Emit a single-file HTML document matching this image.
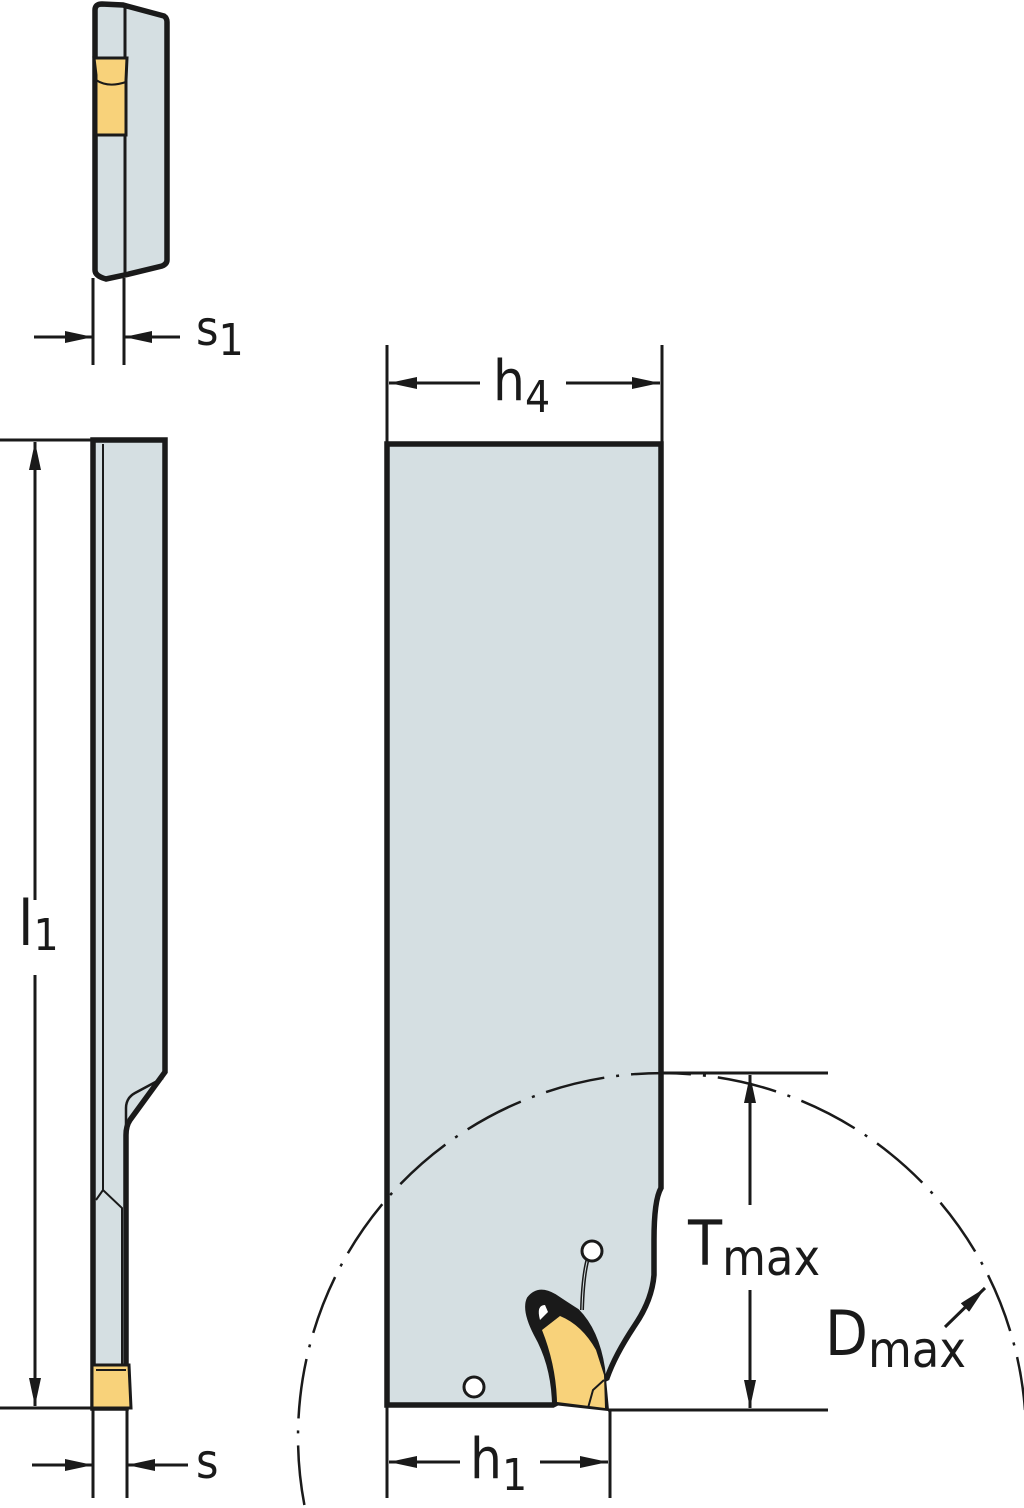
<!DOCTYPE html>
<html><head><style>html,body{margin:0;padding:0;background:#fff;width:1024px;height:1508px;overflow:hidden}svg{display:block;overflow:hidden}</style></head>
<body>
<svg width="1024" height="1508" viewBox="0 0 1024 1508" xmlns="http://www.w3.org/2000/svg">
<defs>
<marker id="a" viewBox="0 0 28 12" refX="28" refY="6" markerWidth="28" markerHeight="12" markerUnits="userSpaceOnUse" orient="auto"><path d="M0,0 L28,6 L0,12 Z" fill="#1a1a1a"/></marker>
</defs>
<g stroke="#1a1a1a" fill="none" stroke-width="3">
<path d="M95,10 Q95,4 102,4 L123,5 L164,16 Q167,18 167,22 L167,260 Q167,264 162,266 L125,275 L106,279 Q95,276 95,270 Z" fill="#d5dfe2" stroke-width="5.5"/>
<line x1="125" y1="6" x2="125" y2="274" stroke-width="3"/>
<path d="M94,58 L127,58 L126,80 L126,135 L96,135 L96,75 Z" fill="#f8d27a" stroke-width="3"/>
<path d="M96,80 Q108,88 126,82" stroke-width="2"/>
<line x1="93" y1="278" x2="93" y2="365"/><line x1="124" y1="278" x2="124" y2="365"/>
<line x1="34" y1="337" x2="93" y2="337" marker-end="url(#a)"/>
<line x1="180" y1="337" x2="124" y2="337" marker-end="url(#a)"/>
<path d="M93,440 L165,440 L165,1072 L130,1120 Q126,1126 126,1135 L126,1408 L93,1408 Z" fill="#d5dfe2" stroke-width="5.5"/>
<line x1="103" y1="444" x2="103" y2="1190" stroke-width="2"/>
<path d="M96,1200 L103,1190 L122,1208 L122,1365" stroke-width="2"/>
<path d="M163,1078 L135,1093 Q126,1098 126,1108 L126,1130" stroke-width="2.5"/>
<path d="M92,1365 L129,1365 L131,1408 L92,1408 Z" fill="#f8d27a" stroke-width="3"/>
<line x1="96" y1="1370" x2="126" y2="1370" stroke-width="2"/>
<line x1="0" y1="440" x2="93" y2="440"/><line x1="0" y1="1408" x2="93" y2="1408"/>
<line x1="35" y1="900" x2="35" y2="442" marker-end="url(#a)"/>
<line x1="35" y1="975" x2="35" y2="1406" marker-end="url(#a)"/>
<line x1="93" y1="1408" x2="93" y2="1498"/><line x1="127" y1="1408" x2="127" y2="1498"/>
<line x1="32" y1="1465" x2="93" y2="1465" marker-end="url(#a)"/>
<line x1="188" y1="1465" x2="127" y2="1465" marker-end="url(#a)"/>
<path d="M387,444 L661,444 L661,1188 Q654,1200 654,1240 L654,1275 Q652,1300 635,1325 Q615,1355 607,1378 L553,1405 L387,1405 Z" fill="#d5dfe2" stroke-width="5.5"/>
<path d="M553,1404 Q552,1365 535,1335 Q522,1310 528,1298 Q538,1285 555,1295 Q570,1305 578,1310 Q598,1330 604,1368 L608,1410 Z" fill="#1a1a1a" stroke-width="2"/>
<path d="M557,1402 Q556,1365 542,1330 L560,1316 Q582,1325 596,1350 L604,1375 L605,1408 Z" fill="#f8d27a" stroke="none"/>
<path d="M540,1320 Q536,1305 545,1305 L548,1312 Z" fill="#fff" stroke="none"/>
<path d="M588,1258 Q583,1275 582,1310" stroke-width="4"/>
<path d="M588,1258 Q583,1275 582,1310" stroke="#d5dfe2" stroke-width="1"/>
<circle cx="592" cy="1251" r="10" fill="#fff" stroke-width="3"/>
<circle cx="474" cy="1387" r="10" fill="#fff" stroke-width="3"/>
<path d="M588,1408 L593,1390 L604,1380" stroke-width="2"/>
<path d="M304.4,1505 A364,364 0 1 1 1025,1410" stroke-width="2.5" stroke-dasharray="60,12,3,12"/>
<line x1="387" y1="345" x2="387" y2="444"/><line x1="662" y1="345" x2="662" y2="444"/>
<line x1="480" y1="383" x2="389" y2="383" marker-end="url(#a)"/>
<line x1="566" y1="383" x2="660" y2="383" marker-end="url(#a)"/>
<line x1="662" y1="1073" x2="828" y2="1073"/><line x1="608" y1="1410" x2="828" y2="1410"/>
<line x1="750" y1="1205" x2="750" y2="1075" marker-end="url(#a)"/>
<line x1="750" y1="1290" x2="750" y2="1408" marker-end="url(#a)"/>
<line x1="387" y1="1405" x2="387" y2="1498"/><line x1="610" y1="1410" x2="610" y2="1498"/>
<line x1="460" y1="1462" x2="389" y2="1462" marker-end="url(#a)"/>
<line x1="540" y1="1462" x2="608" y2="1462" marker-end="url(#a)"/>
<line x1="945" y1="1327" x2="985" y2="1288" marker-end="url(#a)"/>
</g>
<g font-family="'DejaVu Sans Condensed','Liberation Sans',sans-serif" fill="#1a1a1a">
<text x="196" y="345" font-size="48">s<tspan font-size="44" dy="10">1</tspan></text>
<text x="18" y="945" font-size="62">l<tspan font-size="44" dy="5">1</tspan></text>
<text x="196" y="1478" font-size="48">s</text>
<text x="493" y="400" font-size="56">h<tspan font-size="44" dy="12">4</tspan></text>
<text x="470" y="1478" font-size="56">h<tspan font-size="44" dy="12">1</tspan></text>
<text x="688" y="1265" font-size="62">T<tspan font-size="50" dy="10">max</tspan></text>
<text x="825" y="1355" font-size="62">D<tspan font-size="50" dy="12">max</tspan></text>
</g>
</svg>
</body></html>
